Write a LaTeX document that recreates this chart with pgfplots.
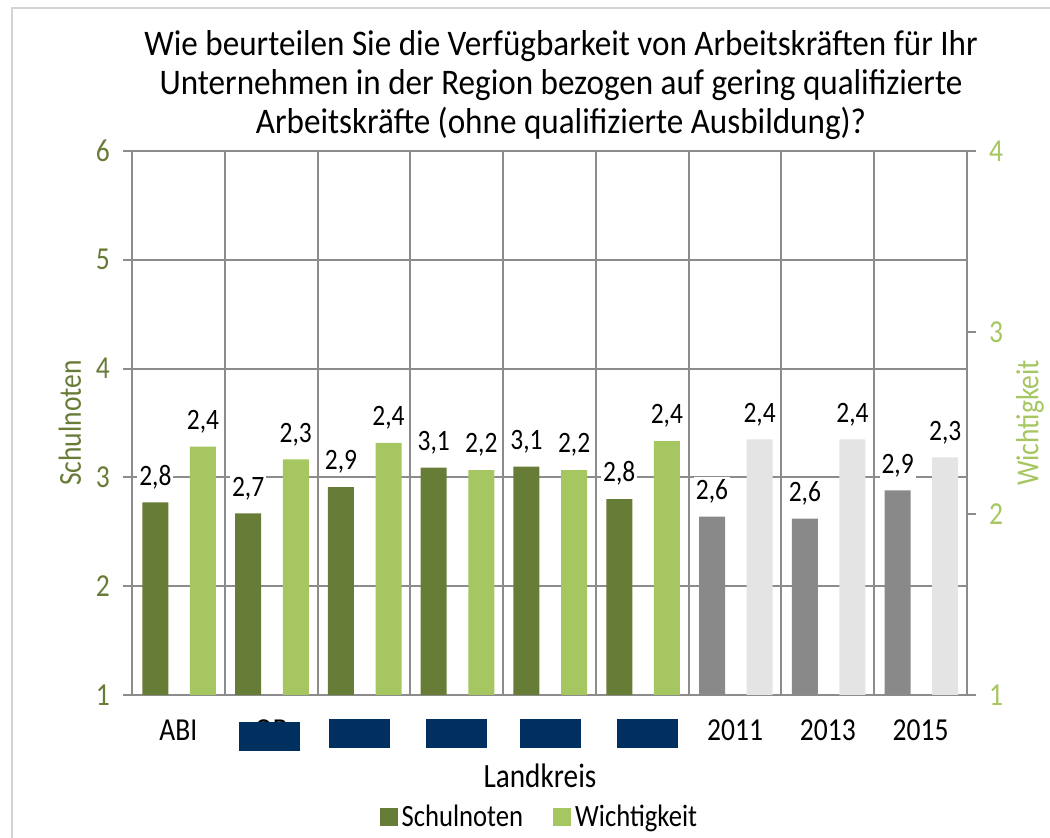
\documentclass[border=0pt]{standalone}
\usepackage{fontspec}
\setmainfont[FakeStretch=0.86]{Carlito}
\newfontfamily\titlefont[FakeStretch=0.92]{Carlito}
\usepackage{pgfplots}
\pgfplotsset{compat=1.18}
\definecolor{dgreen}{HTML}{677C37}
\definecolor{lgreen}{HTML}{A6C662}
\definecolor{dgray}{HTML}{898989}
\definecolor{lgray}{HTML}{E4E4E4}
\definecolor{gridc}{HTML}{8C8C8C}
\definecolor{navy}{HTML}{003060}
\definecolor{framec}{HTML}{D4D4D4}

\pgfplotstableread{
x s
0 2.77
1 2.67
2 2.91
3 3.09
4 3.10
5 2.80
}\schulA
\pgfplotstableread{
x s
6 2.64
7 2.62
8 2.88
}\schulB
\pgfplotstableread{
x w
0 2.37
1 2.30
2 2.39
3 2.24
4 2.24
5 2.40
}\wichA
\pgfplotstableread{
x w
6 2.41
7 2.41
8 2.31
}\wichB

\pgfplotsset{
  base/.style={
    width=417.5pt, height=272pt, scale only axis,
    at={(66pt,71.5pt)}, anchor=south west,
    xmin=-0.5, xmax=8.5,
    ybar, bar width=13pt,
    /pgf/number format/assume math mode=true,
    /pgf/number format/use comma,
    tick align=outside,
    major tick length=4.5pt,
    axis line style={draw=gridc, line width=1pt},
    every tick/.style={draw=gridc, line width=1pt},
    tick label style={font=\fontsize{16}{18}\selectfont},
    nodes near coords,
    every node near coord/.append style={font=\fontsize{14.8}{16}\selectfont, fill=white, inner sep=1pt, yshift=5.5pt,
      /pgf/number format/.cd, fixed, fixed zerofill, precision=1, use comma, assume math mode=true},
  }
}

\begin{document}
\begin{tikzpicture}
\path[use as bounding box] (0,0) rectangle (525pt,419pt);
\draw[framec, line width=1pt] (6pt,0) -- (6pt,415pt) -- (525pt,415pt);

\begin{axis}[base,
  ymin=1, ymax=6, ytick={1,...,6}, ytick pos=left,
  xtick={0,...,8},
  xticklabels={ABI,OB,LEE,NE,HWI,DNK,2011,2013,2015},
  x tick style={draw=none},
  minor xtick={-0.5,0.5,...,8.5},
  minor tick length=0pt,
  xminorgrids, ymajorgrids,
  grid style={draw=gridc, line width=1pt},
  minor grid style={draw=gridc, line width=1pt},
  yticklabel style={text=dgreen, xshift=-3pt},
  xticklabel style={yshift=-4.5pt},
]
\addplot[fill=dgreen, draw=none, bar shift=-11.5pt] table[x=x,y=s] {\schulA};
\addplot[fill=dgray, draw=none, bar shift=-11.5pt] table[x=x,y=s] {\schulB};
\end{axis}

\begin{axis}[base,
  ymin=1, ymax=4, ytick={1,...,4},
  axis y line*=right, axis x line=none,
  yticklabel style={text=lgreen, xshift=3pt},
  legend style={at={(0.489,-0.224)}, anchor=center, legend columns=2, draw=none,
    font=\fontsize{15.5}{17}\selectfont, inner sep=1pt,
    /tikz/every even column/.append style={column sep=13pt}},
]
\addlegendimage{fill=dgreen, draw=none, legend image code/.code={\fill[dgreen] (0pt,-4.5pt) rectangle (9pt,4.5pt);}}
\addlegendentry{Schulnoten}
\addlegendimage{fill=lgreen, draw=none, legend image code/.code={\fill[lgreen] (0pt,-4.5pt) rectangle (9pt,4.5pt);}}
\addlegendentry{Wichtigkeit}
\addplot[fill=lgreen, draw=none, bar shift=12.3pt, forget plot] table[x=x,y=w] {\wichA};
\addplot[fill=lgray, draw=none, bar shift=12.3pt, forget plot] table[x=x,y=w] {\wichB};
\end{axis}

\node[align=center, font=\titlefont\fontsize{18}{19.5}\selectfont] at (280.5pt,376.5pt)
  {Wie beurteilen Sie die Verfügbarkeit von Arbeitskräften für Ihr\\
   Unternehmen in der Region bezogen auf gering qualifizierte\\
   Arbeitskräfte (ohne qualifizierte Ausbildung)?};
\node[rotate=90, text=dgreen, font=\fontsize{16}{18}\selectfont] at (35pt,207.5pt) {Schulnoten};
\node[rotate=90, text=lgreen, font=\fontsize{16}{18}\selectfont] at (515pt,207.5pt) {Wichtigkeit};
\node[font=\fontsize{17}{19}\selectfont] at (270pt,31pt) {Landkreis};

\fill[navy] (119.5pt,43.5pt) rectangle (150pt,58pt);
\fill[navy] (164.5pt,45pt) rectangle (195pt,59.5pt);
\fill[navy] (213pt,45pt) rectangle (243.5pt,59.5pt);
\fill[navy] (260pt,45pt) rectangle (290.5pt,59.5pt);
\fill[navy] (308.5pt,45pt) rectangle (339pt,59.5pt);
\end{tikzpicture}
\end{document}
